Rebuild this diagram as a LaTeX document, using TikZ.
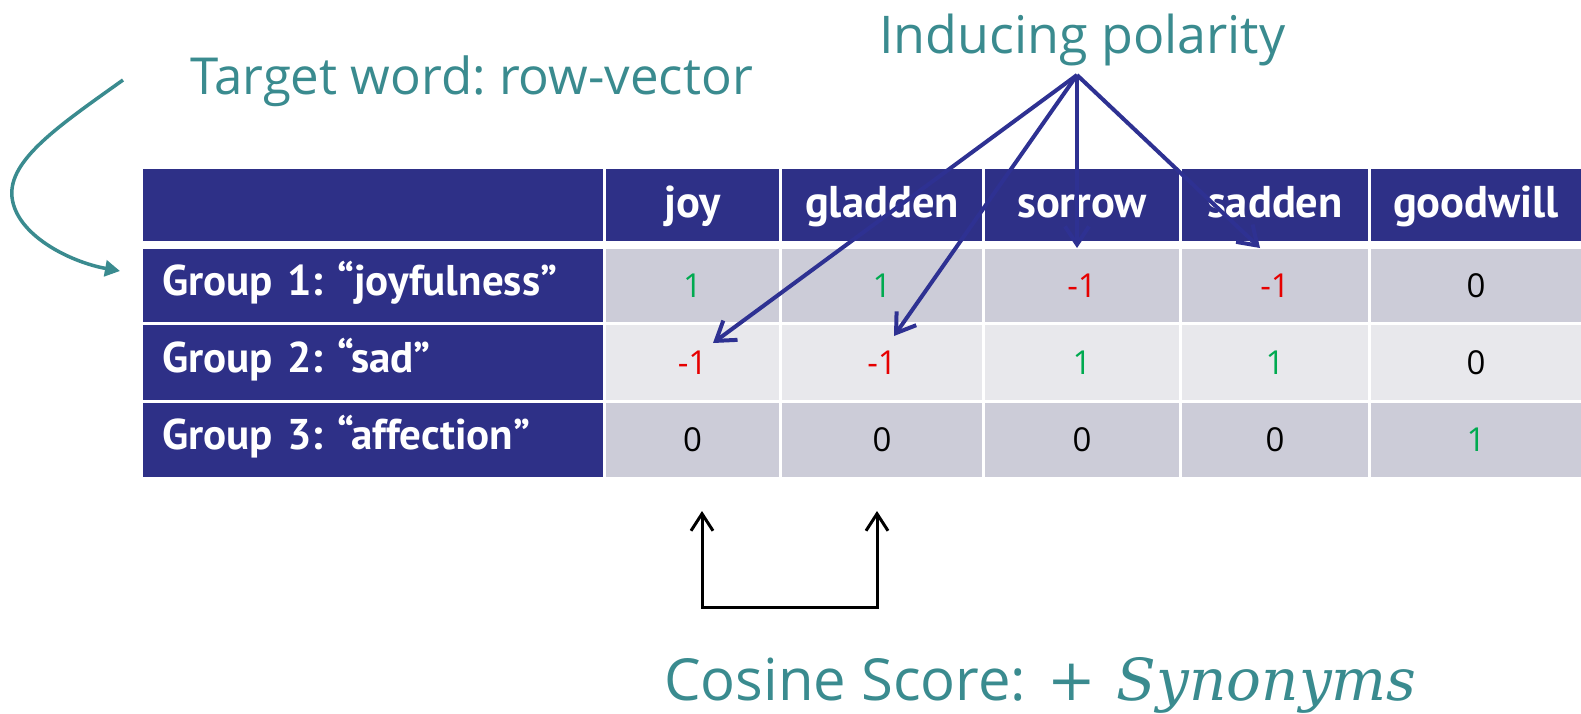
\documentclass[tikz,border=0pt]{standalone}
\usepackage{fontspec}
\setmainfont{Open Sans}
\newfontfamily\tabfont{PT Sans}
\newfontfamily\symfont{DejaVu Serif}
\usetikzlibrary{positioning,arrows.meta}
\definecolor{hdrblue}{RGB}{46,48,135}
\definecolor{arrblue}{RGB}{46,49,146}
\definecolor{teal1}{RGB}{58,139,143}
\definecolor{cellA}{RGB}{204,204,216}
\definecolor{cellB}{RGB}{232,232,236}
\definecolor{posgreen}{RGB}{0,170,80}
\definecolor{negred}{RGB}{230,0,0}
\frenchspacing
\tikzset{
  hdr/.style args={#1,#2}{fill=hdrblue,text=white,inner sep=0pt,
    minimum width=#1pt,minimum height=#2pt,text height=30pt,text depth=6pt,
    font=\tabfont\bfseries\fontsize{44.5}{44.5}\selectfont},
  lbl/.style={hdr={460,73},inner xsep=18pt,text width=422pt,align=left,
    text height=28pt,text depth=9pt,font=\tabfont\bfseries\fontsize{43}{43}\selectfont},
  cella/.style={fill=cellA,inner sep=0pt,minimum height=73pt,font=\fontsize{33}{33}\selectfont},
  cellb/.style={cella,fill=cellB,minimum height=75pt},
  posval/.style={text=posgreen},
  negval/.style={text=negred},
  tealtxt/.style={text=teal1,inner sep=0pt,font=\fontsize{51}{51}\selectfont},
  polarr/.style={draw=arrblue,line width=4pt,-{Straight Barb[length=18pt,width=24pt]}},
  brk/.style={draw=black,line width=3pt,{Straight Barb[length=17pt,width=22pt]}-{Straight Barb[length=17pt,width=22pt]}}
}
\begin{document}
\begin{tikzpicture}[x=1pt,y=-1pt]
  \useasboundingbox[fill=white] (0,0) rectangle (1581,713);

  % header row
  \node [hdr={460,72}] (h0) at (373,205) {};
  \node [hdr={173,72}] (h1) at (692.5,205) {joy};
  \node [hdr={200,72}] (h2) at (882,205) {gladden};
  \node [hdr={194,72}] (h3) at (1082,205) {sorrow};
  \node [hdr={186,72}] (h4) at (1275,205) {sadden};
  \node [hdr={210,72}] (h5) at (1476,205) {goodwill};

  % row labels
  \node [lbl] (g1) at (373,285.5) {Group 1: “joyfulness”};
  \node [lbl,minimum height=75pt] (g2) at (373,362.5) {Group 2: “sad”};
  \node [lbl,minimum height=74pt] (g3) at (373,440) {Group 3: “affection”};

  % values
  \node [cella,minimum width=173pt,posval] (v11) at (692.5,285.5) {1};
  \node [cella,minimum width=200pt,posval] (v12) at (882,285.5) {1};
  \node [cella,minimum width=194pt,negval] (v13) at (1082,285.5) {-1};
  \node [cella,minimum width=186pt,negval] (v14) at (1275,285.5) {-1};
  \node [cella,minimum width=210pt] (v15) at (1476,285.5) {0};

  \node [cellb,minimum width=173pt,negval] (v21) at (692.5,362.5) {-1};
  \node [cellb,minimum width=200pt,negval] (v22) at (882,362.5) {-1};
  \node [cellb,minimum width=194pt,posval] (v23) at (1082,362.5) {1};
  \node [cellb,minimum width=186pt,posval] (v24) at (1275,362.5) {1};
  \node [cellb,minimum width=210pt] (v25) at (1476,362.5) {0};

  \node [cella,minimum width=173pt,minimum height=74pt] (v31) at (692.5,440) {0};
  \node [cella,minimum width=200pt,minimum height=74pt] (v32) at (882,440) {0};
  \node [cella,minimum width=194pt,minimum height=74pt] (v33) at (1082,440) {0};
  \node [cella,minimum width=186pt,minimum height=74pt] (v34) at (1275,440) {0};
  \node [cella,minimum width=210pt,minimum height=74pt,posval] (v35) at (1476,440) {1};

  % captions
  \node [tealtxt,anchor=base west] (target) at (190,94) {Target word: row-vector};
  \node [tealtxt,anchor=base west,font=\fontsize{52}{52}\selectfont] (polar) at (879,53) {Inducing polarity};
  \node [tealtxt,anchor=base west,font=\fontsize{58}{58}\selectfont] (cosine) at (664,700)
    {Cosine Score:\hspace{21pt}{\symfont +\hspace{21pt}\itshape Synonyms}};

  % polarity arrows
  \coordinate (apex) at (1077,75);
  \coordinate (t1) at (713,343);
  \coordinate (t2) at (894,336);
  \coordinate (t3) at (1077,248);
  \coordinate (t4) at (1260,248);
  \foreach \t in {t1,t2,t3,t4}
    \draw [polarr] (apex) -- (\t);

  % target-word arrow
  \coordinate (cs) at (123,80);
  \coordinate (ce) at (120,271);
  \draw [teal1,line width=3.5pt,-{Triangle[length=15pt,width=16pt]}]
    (cs) .. controls (60,125) and (8,160) .. (12,197)
         .. controls (16,235) and (70,262) .. (ce);

  % cosine bracket
  \coordinate (b1) at (702,511);
  \coordinate (b2) at (877,511);
  \draw [brk] (b1) -- (702,607) -- (877,607) -- (b2);
\end{tikzpicture}
\end{document}
